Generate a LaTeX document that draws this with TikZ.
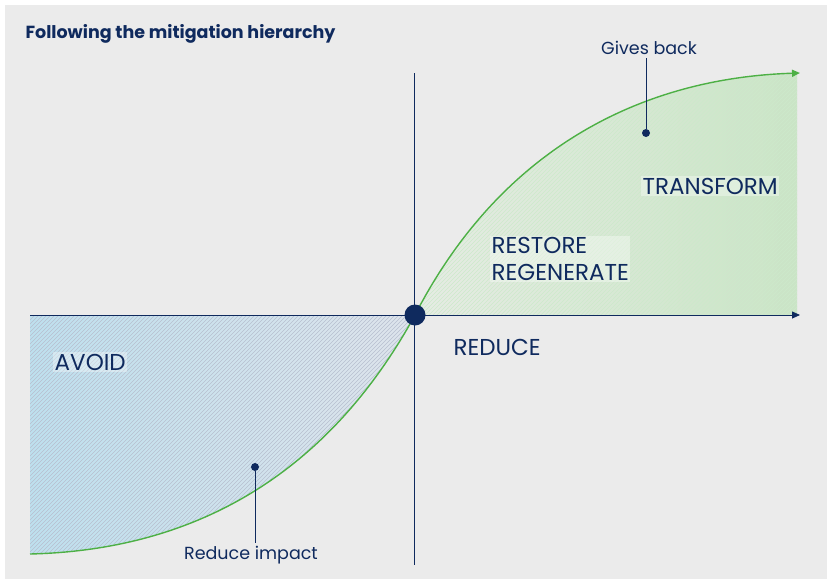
\documentclass[tikz,border=0pt]{standalone}
\usepackage{fontspec}
\setmainfont{Poppins}
\usetikzlibrary{arrows.meta}
\definecolor{navy}{HTML}{0F2A5E}
\definecolor{bg}{HTML}{EBEBEB}
\definecolor{grn}{HTML}{4DB045}
\begin{document}
\begin{tikzpicture}[x=1pt,y=-1pt,
  lbl/.style={text=navy,fill=white,fill opacity=0.35,text opacity=1,inner sep=1.5pt,font=\fontsize{23}{27}\selectfont},
  small/.style={text=navy,font=\fontsize{17.5}{20}\selectfont},
  dotc/.style={circle,fill=navy,inner sep=0,minimum size=8pt}]
\useasboundingbox (0,0) rectangle (832,586);
\fill[white] (0,0) rectangle (832,586);
\fill[bg] (5,5) rectangle (827,579);
% left region
\path[left color={rgb,255:red,190;green,224;blue,238},right color={rgb,255:red,222;green,228;blue,236}]
 (30,315) -- (30,554) .. controls (200,550) and (330,470) .. (415,315) -- cycle;
\begin{scope}
\clip (30,315) -- (30,554) .. controls (200,550) and (330,470) .. (415,315) -- cycle;
\foreach \i in {0,4,...,660} {\draw[navy!30,line width=0.4pt] (30+\i-260,560) -- (30+\i,300);}
\end{scope}
% right region
\path[left color={rgb,255:red,230;green,236;blue,228},right color={rgb,255:red,202;green,228;blue,198}]
 (415,315) .. controls (500,150) and (640,78) .. (797,73) -- (797,315) -- cycle;
\begin{scope}
\clip (415,315) .. controls (500,150) and (640,78) .. (797,73) -- (797,315) -- cycle;
\foreach \i in {0,4,...,700} {\draw[grn!28,line width=0.4pt] (400+\i-260,320) -- (400+\i,60);}
\end{scope}
% axes
\coordinate (o) at (415,315);
\coordinate (xs) at (30,315);
\coordinate (xe) at (800,315);
\coordinate (yt) at (414,73);
\coordinate (yb) at (414,565);
\draw[navy,line width=0.8pt] (yt) -- (yb);
\draw[navy,line width=0.8pt,-{Triangle[length=8pt,width=7pt]}] (xs) -- (xe);
% curve
\coordinate (cs) at (30,554);
\coordinate (ce) at (800,73);
\draw[grn,line width=1.4pt] (cs) .. controls (200,550) and (330,470) .. (o);
\draw[grn,line width=1.4pt,-{Triangle[length=8pt,width=7pt]}] (o) .. controls (500,150) and (640,78) .. (ce);
\node[circle,fill=navy,inner sep=0,minimum size=21pt] (od) at (o) {};
% labels
\node[anchor=west,text=navy,font=\bfseries\fontsize{17.5}{20}\selectfont] (title) at (22,34) {Following the mitigation hierarchy};
\node[lbl,anchor=west] (avoid) at (53,362) {AVOID};
\node[anchor=west,text=navy,font=\fontsize{23}{27}\selectfont] (reduce) at (450,347) {REDUCE};
\node[lbl,anchor=west,align=left] (restore) at (490,259) {RESTORE\\REGENERATE};
\node[lbl,anchor=west] (transform) at (641,186) {TRANSFORM};
\node[dotc] (d1) at (255,467) {};
\node[small] (ri) at (251,555) {Reduce impact};
\draw[navy,line width=0.8pt] (d1) -- (ri.north -| d1);
\node[dotc] (d2) at (646,133) {};
\node[small] (gb) at (649,48) {Gives back};
\draw[navy,line width=0.8pt] (d2) -- (gb.south -| d2);
\end{tikzpicture}
\end{document}
